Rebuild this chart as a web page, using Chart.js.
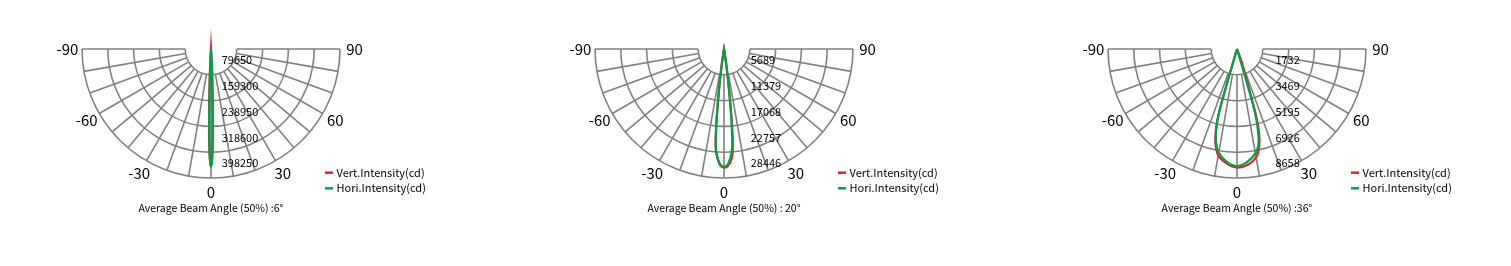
<!DOCTYPE html>
<html>
<head>
<meta charset="utf-8">
<script src="https://cdn.jsdelivr.net/npm/chart.js@4.4.1/dist/chart.umd.min.js"></script>
<style>
  html, body { margin: 0; padding: 0; background: #fff; overflow: hidden; }
  body { width: 1511px; height: 266px; position: relative; }
  canvas { position: absolute; top: 0; }
</style>
</head>
<body>
<canvas id="c1" width="480" height="266" style="left:0px"></canvas>
<canvas id="c2" width="480" height="266" style="left:513px"></canvas>
<canvas id="c3" width="480" height="266" style="left:1026px"></canvas>
<script>
// etiquetas comunes
var angleLabels = [-90, -60, -30, 0, 30, 60, 90];
var seriesNames = ['Vert.Intensity(cd)', 'Hori.Intensity(cd)'];

// grafico 1 (6°)
var angles1 = [-90, -5, -3, -2, -1.5, -1, -0.5, 0, 0.5, 1, 1.5, 2, 3, 5, 90];
var vert1 = [0, 0, 52000, 147000, 222000, 297000, 344000, 362000, 343000, 295000, 219000, 142000, 49000, 0, 0];
var hori1 = [0, 0, 46300, 138900, 216100, 293300, 345700, 363300, 345700, 293300, 216100, 138900, 46300, 0, 0];
var ticks1 = [79650, 159300, 238950, 318600, 398250];
var caption1 = 'Average Beam Angle (50%) :6°';

// grafico 2 (20°)
var angles2 = [-90, -20, -10, -8, -7, -6, -5, -4, -2, 0, 2, 4, 5, 6, 7, 8, 10, 20, 90];
var vert2 = [0, 0, 440, 4190, 8820, 15660, 21170, 23370, 25580, 26130, 25800, 24250, 22270, 16980, 9700, 4850, 880, 0, 0];
var hori2 = [0, 0, 660, 4410, 8820, 15440, 20950, 23150, 25360, 25950, 25360, 23150, 20950, 15440, 8820, 4410, 660, 0, 0];
var ticks2 = [5689, 11379, 17068, 22757, 28446];
var caption2 = 'Average Beam Angle (50%) : 20°';

// grafico 3 (36°)
var angles3 = [-90, -30, -20, -16, -15, -13, -10, -5, 0, 5, 10, 13, 15, 16, 20, 30, 90];
var vert3 = [0, 0, 0, 3893, 5302, 6444, 7249, 7719, 7954, 7820, 7380, 6650, 5640, 4560, 1000, 0, 0];
var hori3 = [0, 0, 67, 4027, 5235, 6309, 7048, 7618, 7853, 7618, 7115, 6444, 5235, 4027, 67, 0, 0];
var ticks3 = [1732, 3469, 5195, 6926, 8658];
var caption3 = 'Average Beam Angle (50%) :36°';

var FONT = '"Noto Sans CJK SC", "Noto Sans", sans-serif';
var W = 480, H = 266;
var CX = 211, CY = 49, R = 129; // centro y radio exterior en pixeles

// pasar (angulo, intensidad) a x/y
function toPoints(angles, values) {
    return angles.map(function (a, i) {
        var t = a * Math.PI / 180;
        return { x: values[i] * Math.sin(t), y: values[i] * Math.cos(t) };
    });
}

// rejilla polar, rotulos y leyenda
var polarGrid = {
    id: 'polarGrid',
    afterDatasetUpdate: function (chart, args) {
        // curva cerrada para que la union en el centro sea en punta
        if (chart.data.datasets[args.index].miter) {
            args.meta.dataset._loop = true;
            args.meta.dataset._fullLoop = true;
        }
    },
    beforeDatasetDraw: function (chart, args) {
        chart.ctx.miterLimit = chart.data.datasets[args.index].miter || 10;
    },
    afterDatasetDraw: function (chart) {
        chart.ctx.miterLimit = 10;
    },
    beforeDatasetsDraw: function (chart) {
        var ctx = chart.ctx;
        var xs = chart.scales.x, ys = chart.scales.y;
        var o = chart.options.plugins.polarGrid;
        var ticks = o.ticks;
        var cx = xs.getPixelForValue(0), cy = ys.getPixelForValue(0);
        var rad = function (v) { return xs.getPixelForValue(v) - cx; };
        var rIn = rad(ticks[0]), rOut = rad(ticks[ticks.length - 1]);

        ctx.save();
        ctx.strokeStyle = '#808080';
        ctx.lineWidth = 1.6;
        ticks.forEach(function (v) {
            ctx.beginPath();
            ctx.arc(cx, cy, rad(v), 0, Math.PI);
            ctx.stroke();
        });
        for (var a = -90; a <= 90; a += 10) {
            var t = a * Math.PI / 180;
            ctx.beginPath();
            ctx.moveTo(cx + rIn * Math.sin(t), cy + rIn * Math.cos(t));
            ctx.lineTo(cx + rOut * Math.sin(t), cy + rOut * Math.cos(t));
            ctx.stroke();
        }

        ctx.fillStyle = '#000';
        ctx.textBaseline = 'middle';
        ctx.textAlign = 'center';
        ctx.font = '15px ' + FONT;
        var rl = rOut + 14.5;
        angleLabels.forEach(function (a) {
            var t = a * Math.PI / 180;
            ctx.fillText(String(a), cx + rl * Math.sin(t), cy + rl * Math.cos(t));
        });

        ctx.font = '11px ' + FONT;
        ctx.textAlign = 'left';
        ticks.forEach(function (v) {
            ctx.fillText(String(v), cx + o.labelX, cy + rad(v) - 14.8);
        });

        ctx.textAlign = 'center';
        ctx.font = '10.5px ' + FONT;
        ctx.fillText(o.caption, cx, cy + 158.7);

        ctx.textAlign = 'left';
        ctx.font = '11px ' + FONT;
        chart.data.datasets.forEach(function (ds, i) {
            var y = cy + 123.7 + i * 15.6;
            ctx.fillStyle = ds.borderColor;
            ctx.fillRect(cx + 114, y - 1.25, 8, 2.5);
            ctx.fillStyle = '#000';
            ctx.fillText(ds.label, cx + 125.5, y);
        });
        ctx.restore();
    }
};

function makeChart(id, angles, vert, hori, ticks, labelX, caption, spikes) {
    var u = ticks[ticks.length - 1] / R; // valor por pixel
    return new Chart(document.getElementById(id), {
        type: 'scatter',
        data: {
            datasets: [{
                label: seriesNames[0],
                data: toPoints(angles, vert),
                borderColor: '#e8202a',
                showLine: true,
                order: 1,
                miter: spikes[0]
            }, {
                label: seriesNames[1],
                data: toPoints(angles, hori),
                borderColor: '#00a04a',
                showLine: true,
                order: 0,
                miter: spikes[1]
            }]
        },
        options: {
            responsive: false,
            animation: false,
            devicePixelRatio: 1,
            layout: { padding: 0 },
            scales: {
                x: { type: 'linear', display: false, min: -CX * u, max: (W - CX) * u },
                y: { type: 'linear', display: false, reverse: true, min: -CY * u, max: (H - CY) * u }
            },
            elements: {
                point: { radius: 0, hoverRadius: 0 },
                line: { tension: 0.3, borderWidth: 2.2 }
            },
            plugins: {
                legend: { display: false },
                tooltip: { enabled: false },
                polarGrid: { ticks: ticks, labelX: labelX, caption: caption }
            }
        },
        plugins: [polarGrid]
    });
}

makeChart('c1', angles1, vert1, hori1, ticks1, 10.7, caption1, [40, 0]);
makeChart('c2', angles2, vert2, hori2, ticks2, 26.7, caption2, [10, 10]);
makeChart('c3', angles3, vert3, hori3, ticks3, 38.4, caption3, [0, 0]);
</script>
</body>
</html>
